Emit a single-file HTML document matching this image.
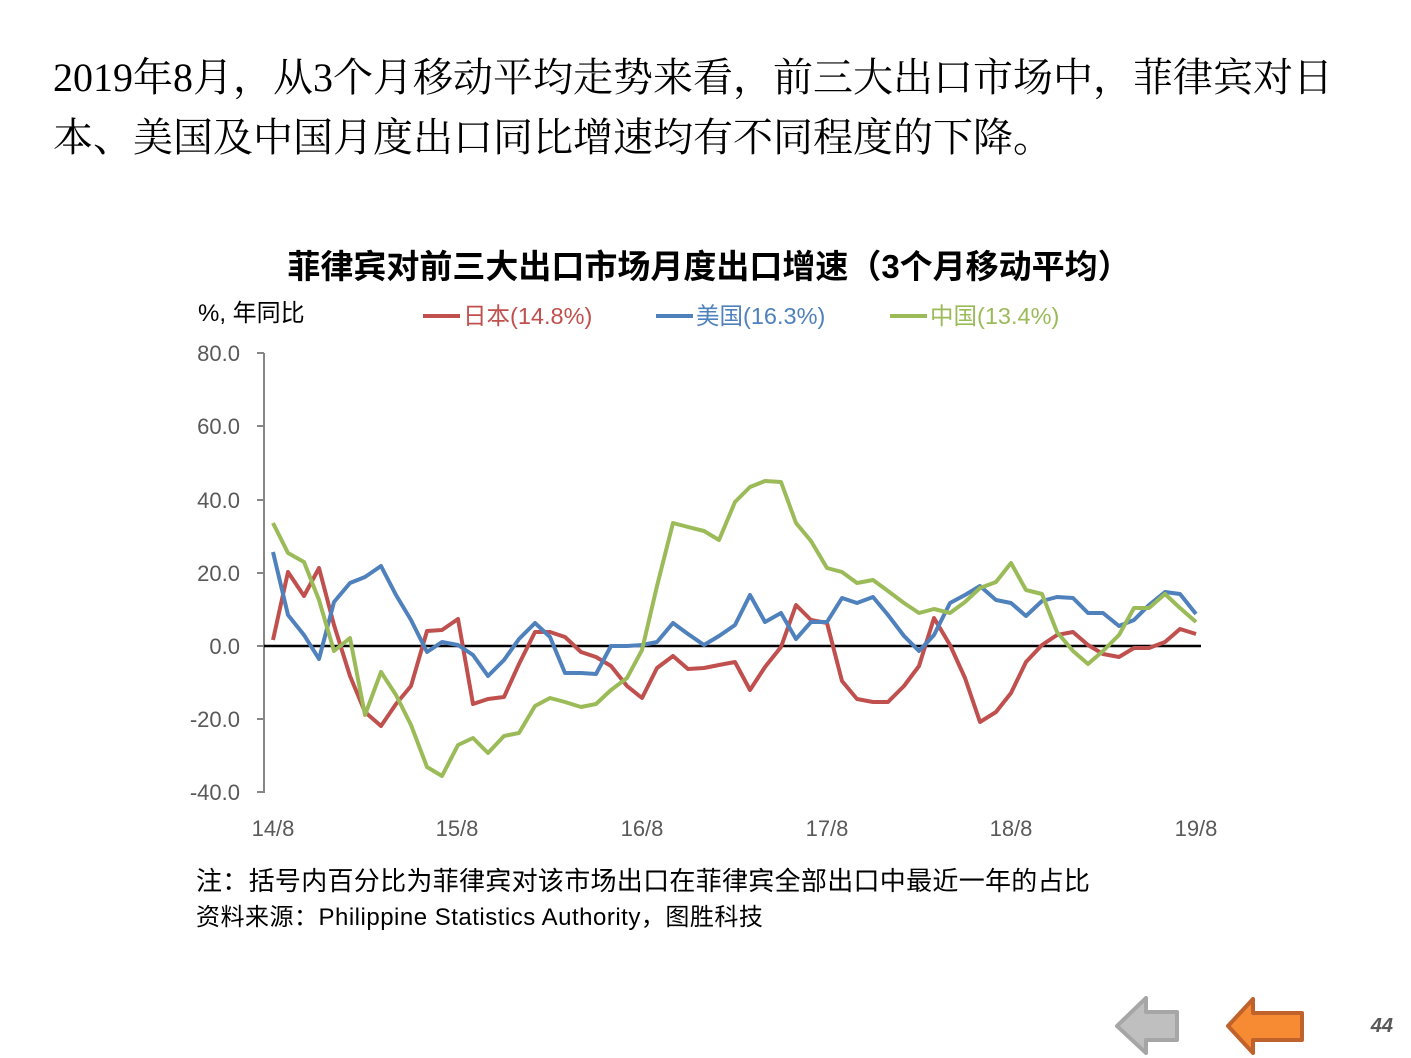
<!DOCTYPE html>
<html><head><meta charset="utf-8"><style>
body{margin:0;width:1411px;height:1058px;background:#fff;position:relative;overflow:hidden;font-family:"Liberation Sans","Noto Sans CJK SC",sans-serif}
.h{position:absolute;left:53px;top:48px;font-family:"Liberation Serif","Noto Serif CJK SC",serif;font-size:40px;line-height:60px;color:#000;white-space:nowrap;letter-spacing:0px}
.t{position:absolute;white-space:nowrap}
</style></head><body>
<div class="h">2019年8月，从3个月移动平均走势来看，前三大出口市场中，菲律宾对日<br>本、美国及中国月度出口同比增速均有不同程度的下降。</div>
<div class="t" style="left:0;width:1418px;text-align:center;top:240px;font-size:33px;font-weight:bold;color:#000">菲律宾对前三大出口市场月度出口增速（3个月移动平均）</div>
<div class="t" style="left:198px;top:293px;font-size:24px;color:#000">%, 年同比</div>
<svg style="position:absolute;left:0;top:0" width="1411" height="1058">
<g stroke-width="4" fill="none" stroke-linejoin="round">
<line x1="423" y1="316" x2="460" y2="316" stroke="#c0504d"/>
<line x1="656" y1="316" x2="693" y2="316" stroke="#4f81bd"/>
<line x1="890" y1="316" x2="927" y2="316" stroke="#9bbb59"/>
</g>
<g font-family="Liberation Sans, Noto Sans CJK SC, sans-serif" font-size="23.5">
<text x="463" y="324" fill="#c0504d">日本(14.8%)</text>
<text x="696" y="324" fill="#4f81bd">美国(16.3%)</text>
<text x="930" y="324" fill="#9bbb59">中国(13.4%)</text>
</g>
<g stroke="#868686" stroke-width="2">
<line x1="264" y1="353" x2="264" y2="793"/>
<line x1="257" y1="353" x2="264" y2="353"/><line x1="257" y1="426" x2="264" y2="426"/>
<line x1="257" y1="500" x2="264" y2="500"/><line x1="257" y1="573" x2="264" y2="573"/>
<line x1="257" y1="646" x2="264" y2="646"/><line x1="257" y1="719" x2="264" y2="719"/>
<line x1="257" y1="792" x2="264" y2="792"/>
</g>
<g font-family="Liberation Sans, sans-serif" font-size="22" fill="#595959" text-anchor="end">
<text x="240" y="361">80.0</text><text x="240" y="434">60.0</text><text x="240" y="508">40.0</text>
<text x="240" y="581">20.0</text><text x="240" y="654">0.0</text><text x="240" y="727">-20.0</text><text x="240" y="800">-40.0</text>
</g>
<g font-family="Liberation Sans, sans-serif" font-size="22" fill="#595959" text-anchor="middle">
<text x="273" y="836">14/8</text><text x="457" y="836">15/8</text><text x="642" y="836">16/8</text>
<text x="827" y="836">17/8</text><text x="1011" y="836">18/8</text><text x="1196" y="836">19/8</text>
</g>
<line x1="264" y1="646" x2="1201" y2="646" stroke="#000" stroke-width="2.5"/>
<g fill="none" stroke-width="4" stroke-linejoin="round">
<polyline stroke="#c0504d" points="273,640 288,572 304,596 319,568 334,625 350,676 365,712 381,726 396,704 411,686 427,631 442,630 458,619 473,704 488,699 504,697 519,664 535,632 550,632 565,637 581,652 596,657 611,666 627,686 642,698 657,668 673,656 688,669 704,668 719,665 735,662 750,690 765,667 781,647 796,605 811,620 827,623 842,681 857,699 873,702 888,702 904,686 919,666 934,618 950,645 965,678 980,722 996,712 1011,693 1026,662 1042,645 1057,635 1073,632 1088,645 1103,654 1119,657 1134,648 1149,648 1165,642 1180,629 1196,634"/>
<polyline stroke="#4f81bd" points="273,552 288,615 304,635 319,659 334,602 350,583 365,577 381,566 396,595 411,620 427,652 442,642 458,645 473,655 488,676 504,660 519,639 535,623 550,637 565,673 581,673 596,674 611,646 627,646 642,645 657,642 673,623 688,634 704,645 719,636 735,625 750,595 765,622 781,613 796,639 811,622 827,622 842,598 857,603 873,597 888,615 904,636 919,651 934,635 950,603 965,595 980,586 996,600 1011,603 1026,616 1042,601 1057,597 1073,598 1088,613 1103,613 1119,626 1134,620 1149,605 1165,592 1180,594 1196,614"/>
<polyline stroke="#9bbb59" points="273,523 288,553 304,562 319,600 334,651 350,638 365,715 381,672 396,695 411,725 427,767 442,776 458,745 473,738 488,753 504,736 519,733 535,706 550,698 565,702 581,707 596,704 611,690 627,678 642,650 657,586 673,523 688,527 704,531 719,540 735,502 750,487 765,481 781,482 796,523 811,541 827,568 842,572 857,583 873,580 888,591 904,603 919,613 934,609 950,613 965,602 980,588 996,582 1011,563 1026,590 1042,594 1057,632 1073,651 1088,664 1103,651 1119,635 1134,608 1149,608 1165,594 1180,608 1196,622"/>
</g>
<polygon points="1117,1026 1146,998 1146,1012 1177,1012 1177,1040 1146,1040 1146,1053" fill="#bfbfbf" stroke="#a6a6a6" stroke-width="4" stroke-linejoin="round"/>
<polygon points="1228,1026 1253,999 1253,1013 1302,1013 1302,1040 1253,1040 1253,1053" fill="#f68b33" stroke="#c0622b" stroke-width="4" stroke-linejoin="round"/>
<text x="1393" y="1032" text-anchor="end" font-family="Liberation Sans, sans-serif" font-size="20" font-style="italic" font-weight="bold" fill="#595959">44</text>
</svg>
<div class="t" style="left:196px;top:864px;font-size:26px;line-height:35px;letter-spacing:0.3px;color:#000">注：括号内百分比为菲律宾对该市场出口在菲律宾全部出口中最近一年的占比<br><span style="font-size:24px;letter-spacing:0.5px">资料来源：Philippine Statistics Authority，图胜科技</span></div>
</body></html>
